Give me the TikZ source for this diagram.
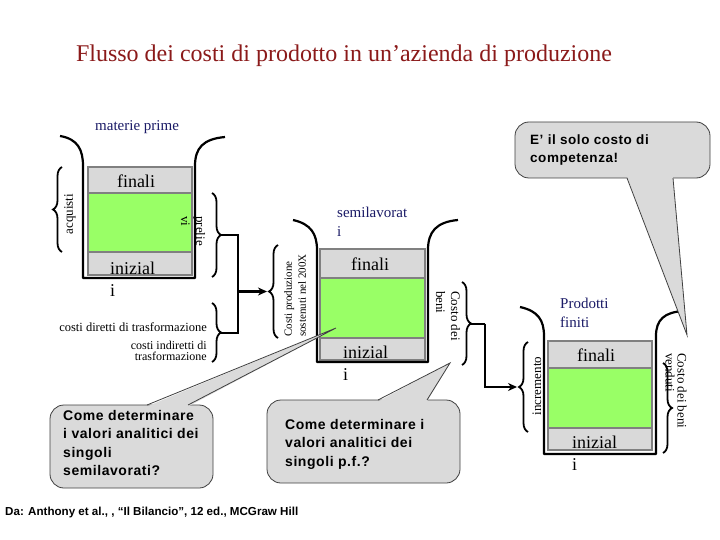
\documentclass[tikz,border=0pt]{standalone}
\usepackage{fontspec}
\setmainfont{Liberation Serif}
\newfontfamily\callfont[LetterSpace=4]{Liberation Sans}
\newfontfamily\notefont{Liberation Sans}
\usetikzlibrary{arrows.meta,decorations.pathreplacing}
\definecolor{titlered}{HTML}{8B1A1A}
\definecolor{navy}{HTML}{1A1A66}
\definecolor{bandgray}{HTML}{D9D9D9}
\definecolor{stock}{HTML}{99FF66}
\definecolor{bandline}{HTML}{808080}
\definecolor{callgray}{HTML}{DADADA}
\tikzset{
  wall/.style={line width=2.2pt,line join=round},
  band/.style={fill=bandgray,draw=bandline,line width=2.5pt},
  stockbox/.style={fill=stock,draw=bandline,line width=2.5pt},
  curly/.style={decorate,decoration={brace,amplitude=9pt},line width=1.8pt},
  link/.style={line width=2pt},
  flow/.style={line width=2.6pt,-{Stealth[length=9pt,width=8pt]}},
  callbox/.style={fill=callgray,draw=black!75,line width=0.8pt,rounded corners=14pt},
  callpointer/.style={draw=black!75,line width=0.8pt},
  calltext/.style={align=left,inner sep=0pt,font=\callfont\bfseries\fontsize{14}{18.5}\selectfont},
  tanklabel/.style={text=navy,inner sep=0pt,font=\fontsize{15}{19}\selectfont},
  stocklabel/.style={inner sep=0pt,font=\fontsize{18}{22}\selectfont},
  sidelabel/.style={inner sep=0pt,font=\fontsize{13}{15}\selectfont}
}

\begin{document}
\begin{tikzpicture}[x=1pt,y=-1pt,>=Stealth]
\useasboundingbox[fill=white] (0,0) rectangle (720,540);

\node[text=titlered,font=\fontsize{24}{28}\selectfont] (title) at (344,56) {Flusso dei costi di prodotto in un’azienda di produzione};

% materie prime
\draw[band] (88,167) rectangle (192,193);
\draw[stockbox] (88,193) rectangle (192,252);
\draw[band] (88,252) rectangle (192,275);
\draw[wall] (60,136) .. controls (78,139) and (83,150) .. (83,166) -- (83,278) -- (195,278) -- (195,166) .. controls (195,148) and (203,139) .. (225,137);
\node[tanklabel,anchor=west] (rawlbl) at (95,127) {materie prime};
\node[stocklabel] (rawend) at (136,181) {finali};
\node[stocklabel,anchor=west,align=left] (rawbeg) at (110,279) {inizial\\i};

% semilavorati
\draw[band] (320,249) rectangle (425,278);
\draw[stockbox] (320,278) rectangle (425,338);
\draw[band] (320,338) rectangle (425,360);
\draw[wall] (293,220) .. controls (311,224) and (317,234) .. (317,250) -- (317,362) -- (428,362) -- (428,250) .. controls (428,232) and (436,222) .. (458,220);
\node[tanklabel,anchor=west,align=left] (wiplbl) at (337,222) {semilavorat\\i};
\node[stocklabel] (wipend) at (370,264) {finali};
\node[stocklabel,anchor=west,align=left] (wipbeg) at (343,363) {inizial\\i};

% prodotti finiti
\draw[band] (548,341) rectangle (652,368);
\draw[stockbox] (548,368) rectangle (652,428);
\draw[band] (548,428) rectangle (652,450);
\draw[wall] (520,307) .. controls (538,311) and (544,320) .. (544,336) -- (544,454) -- (656,454) -- (656,336) .. controls (656,320) and (664,312) .. (684,311);
\node[tanklabel,anchor=west,align=left] (fglbl) at (560,313) {Prodotti\\finiti};
\node[stocklabel] (fgend) at (596,355) {finali};
\node[stocklabel,anchor=west,align=left] (fgbeg) at (572,453) {inizial\\i};

% graffe
\draw[curly] (62,252) -- (62,167);
\draw[curly] (212,193) -- (212,277);
\draw[curly] (212,303) -- (212,362);
\draw[curly] (278,338) -- (278,245);
\draw[curly] (462,282) -- (462,365);
\draw[curly] (528,432) -- (528,342);
\draw[curly] (663,363) -- (663,453);

\node[sidelabel,rotate=90] (buy) at (70,214) {acquisti};
\node[sidelabel,rotate=-90,anchor=west,align=left] (draw1) at (193,216) {prelie\\vi};
\node[anchor=east,inner sep=0pt,font=\fontsize{12.5}{14}\selectfont] (direct) at (207,327) {costi diretti di trasformazione};
\node[anchor=east,align=right,inner sep=0pt,font=\fontsize{12}{11}\selectfont] (indirect) at (207,351) {costi indiretti di\\trasformazione};
\node[sidelabel,rotate=90,anchor=west,align=left,font=\fontsize{11}{14}\selectfont] (spent) at (295,337) {Costi produzione\\sostenuti nel 200X};
\node[sidelabel,rotate=-90,anchor=west,align=left] (cogm) at (448,291) {Costo dei\\beni};
\node[sidelabel,rotate=90] (incr) at (537,386) {incremento};
\node[sidelabel,rotate=-90,anchor=west,align=left,font=\fontsize{13}{12}\selectfont] (cogs) at (676,353) {Costo dei beni\\venduti};

\coordinate (prelTip) at (221,235);
\coordinate (trasTip) at (221,332.5);
\coordinate (prodTip) at (269,291.5);
\coordinate (cbTip) at (471,323.5);
\coordinate (incTip) at (519,387);
\coordinate (mergeA) at (238,235);
\coordinate (mergeB) at (485,323.5);

\draw[link] (prelTip) -- (mergeA) |- (trasTip);
\draw[flow] (mergeA |- prodTip) -- ([xshift=-2pt]prodTip);
\draw[link] (cbTip) -- (mergeB);
\draw[flow] (mergeB) |- ([xshift=-2pt]incTip);

% fumetti
\coordinate (aimSemi) at (336,328);
\coordinate (aimFin) at (450,363);
\coordinate (aimSold) at (687,335);

\draw[callbox] (50,405) rectangle (213,488);
\fill[callgray] (147,406.5) -- (aimSemi) -- (188,406.5) -- cycle;
\draw[callpointer] (147,405) -- (aimSemi) -- (188,405);
\node[calltext,anchor=west] (qsemi) at (63,443) {Come determinare\\i valori analitici dei\\singoli\\semilavorati?};

\draw[callbox] (267,400) rectangle (460,483);
\fill[callgray] (378,401.5) -- (aimFin) -- (427,401.5) -- cycle;
\draw[callpointer] (378,400) -- (aimFin) -- (427,400);
\node[calltext,anchor=west] (qfin) at (285,444) {Come determinare i\\valori analitici dei\\singoli p.f.?};

\draw[callbox] (515,122) rectangle (710,178);
\fill[callgray] (627,176.5) -- (aimSold) -- (673,176.5) -- cycle;
\draw[callpointer] (627,178) -- (aimSold) -- (673,178);
\node[calltext,anchor=west,font=\callfont\bfseries\fontsize{13.5}{18}\selectfont] (onlycost) at (530,150) {E’ il solo costo di\\competenza!};

\node[anchor=west,inner sep=0pt,font=\notefont\bfseries\fontsize{11.6}{14}\selectfont] (source) at (5,512) {Da: Anthony et al., , “Il Bilancio”, 12 ed., MCGraw Hill};
\end{tikzpicture}
\end{document}
